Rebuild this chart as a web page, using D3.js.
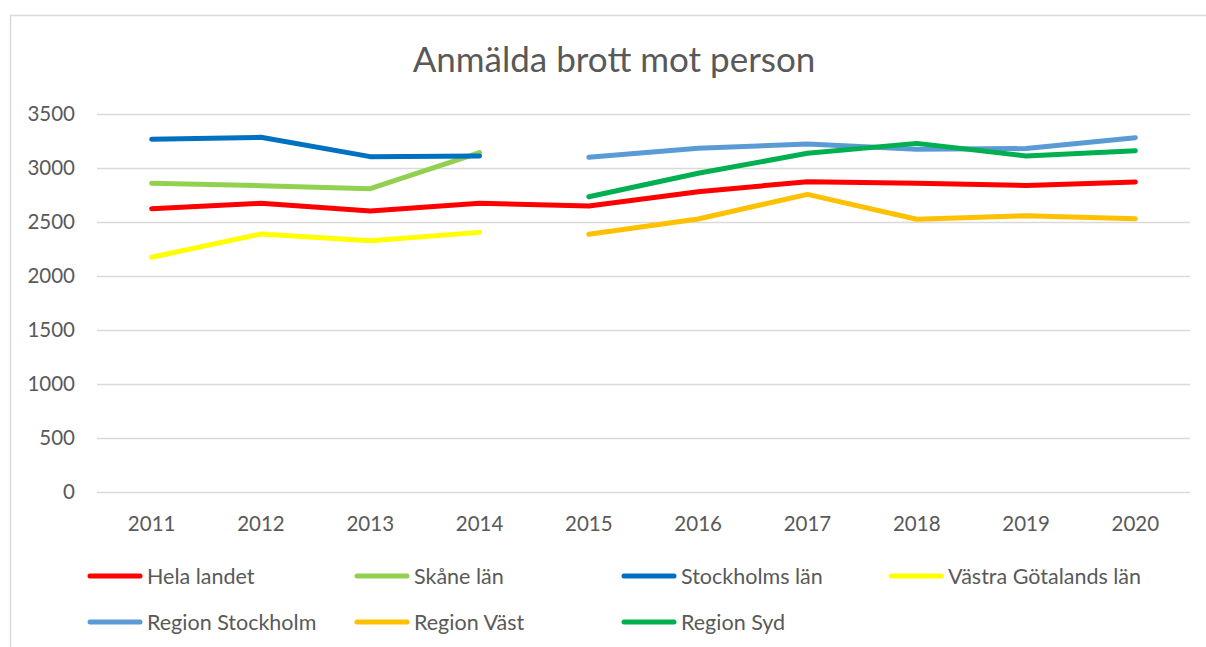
<!DOCTYPE html>
<html>
<head>
<meta charset="utf-8">
<script src="https://cdn.jsdelivr.net/npm/d3@7"></script>
<style>
  html, body { margin: 0; padding: 0; background: #fff; }
  svg { display: block; font-family: Lato, "Open Sans", sans-serif; }
</style>
</head>
<body>
<svg id="chart" width="1206" height="647"></svg>
<script>
(function () {
  'use strict';

  var years = ['2011', '2012', '2013', '2014', '2015', '2016', '2017', '2018', '2019', '2020'];
  var yTicks = [0, 500, 1000, 1500, 2000, 2500, 3000, 3500];

  var helaLandet = [2623, 2673, 2602, 2673, 2648, 2781, 2873, 2858, 2839, 2870];
  var skaneLan = [2858, 2836, 2808, 3142, null, null, null, null, null, null];
  var stockholmsLan = [3266, 3284, 3105, 3111, null, null, null, null, null, null];
  var vastraGotaland = [2173, 2389, 2327, 2404, null, null, null, null, null, null];
  var regionStockholm = [null, null, null, null, 3099, 3182, 3222, 3173, 3180, 3281];
  var regionVast = [null, null, null, null, 2386, 2528, 2756, 2525, 2558, 2531];
  var regionSyd = [null, null, null, null, 2734, 2951, 3136, 3228, 3111, 3160];

  var seriesNames = ['Hela landet', 'Skåne län', 'Stockholms län', 'Västra Götalands län',
    'Region Stockholm', 'Region Väst', 'Region Syd'];
  var seriesValues = [helaLandet, skaneLan, stockholmsLan, vastraGotaland,
    regionStockholm, regionVast, regionSyd];
  var seriesColors = ['#FF0000', '#92D050', '#0070C0', '#FFFF00', '#5B9BD5', '#FFC000', '#00B050'];

  var svg = d3.select('#chart');
  var margin = { top: 114, left: 97 };
  var iw = 1190 - margin.left;
  var ih = 492 - margin.top;

  // chart frame (only top and left edges are visible)
  svg.append('rect').attr('x', 10.5).attr('y', 15.5).attr('width', 1300).attr('height', 700)
    .attr('fill', 'none').attr('stroke', '#d9d9d9').attr('stroke-width', 1.5);

  svg.append('text').attr('x', 614).attr('y', 72).attr('text-anchor', 'middle')
    .attr('font-size', 35).attr('fill', '#595959').text('Anmälda brott mot person');

  var x = d3.scaleBand().domain(years).range([0, iw]);
  var y = d3.scaleLinear().domain([0, 3500]).range([ih, 0]);

  var g = svg.append('g').attr('transform', 'translate(' + margin.left + ',' + margin.top + ')');

  // gridlines
  g.selectAll('line.grid').data(yTicks).enter().append('line')
    .attr('x1', 0).attr('x2', iw)
    .attr('y1', function (d) { return Math.round(y(d)) + 0.5; })
    .attr('y2', function (d) { return Math.round(y(d)) + 0.5; })
    .attr('stroke', '#d9d9d9').attr('stroke-width', 1.5);

  // y labels
  g.selectAll('text.ylab').data(yTicks).enter().append('text')
    .attr('x', -22).attr('y', function (d) { return y(d); })
    .attr('dy', '0.35em').attr('text-anchor', 'end')
    .attr('font-size', 20.5).attr('fill', '#595959')
    .text(function (d) { return d; });

  // x labels
  g.selectAll('text.xlab').data(years).enter().append('text')
    .attr('x', function (d) { return x(d) + x.bandwidth() / 2; })
    .attr('y', ih + 39).attr('text-anchor', 'middle')
    .attr('font-size', 20.5).attr('fill', '#595959')
    .text(function (d) { return d; });

  var line = d3.line()
    .defined(function (d) { return d != null; })
    .x(function (d, i) { return x(years[i]) + x.bandwidth() / 2; })
    .y(function (d) { return y(d); });

  seriesValues.forEach(function (vals, i) {
    g.append('path').attr('d', line(vals))
      .attr('fill', 'none').attr('stroke', seriesColors[i])
      .attr('stroke-width', 5).attr('stroke-linecap', 'round').attr('stroke-linejoin', 'round');
  });

  // legend
  var colX = [90, 357, 624, 891];
  var rowY = [576, 622];
  seriesNames.forEach(function (name, i) {
    var lx = colX[i % 4], ly = rowY[Math.floor(i / 4)];
    svg.append('line').attr('x1', lx).attr('x2', lx + 50).attr('y1', ly).attr('y2', ly)
      .attr('stroke', seriesColors[i]).attr('stroke-width', 5).attr('stroke-linecap', 'round');
    svg.append('text').attr('x', lx + 57).attr('y', ly).attr('dy', '0.35em')
      .attr('font-size', 21.5).attr('fill', '#595959').text(name);
  });
})();
</script>
</body>
</html>
